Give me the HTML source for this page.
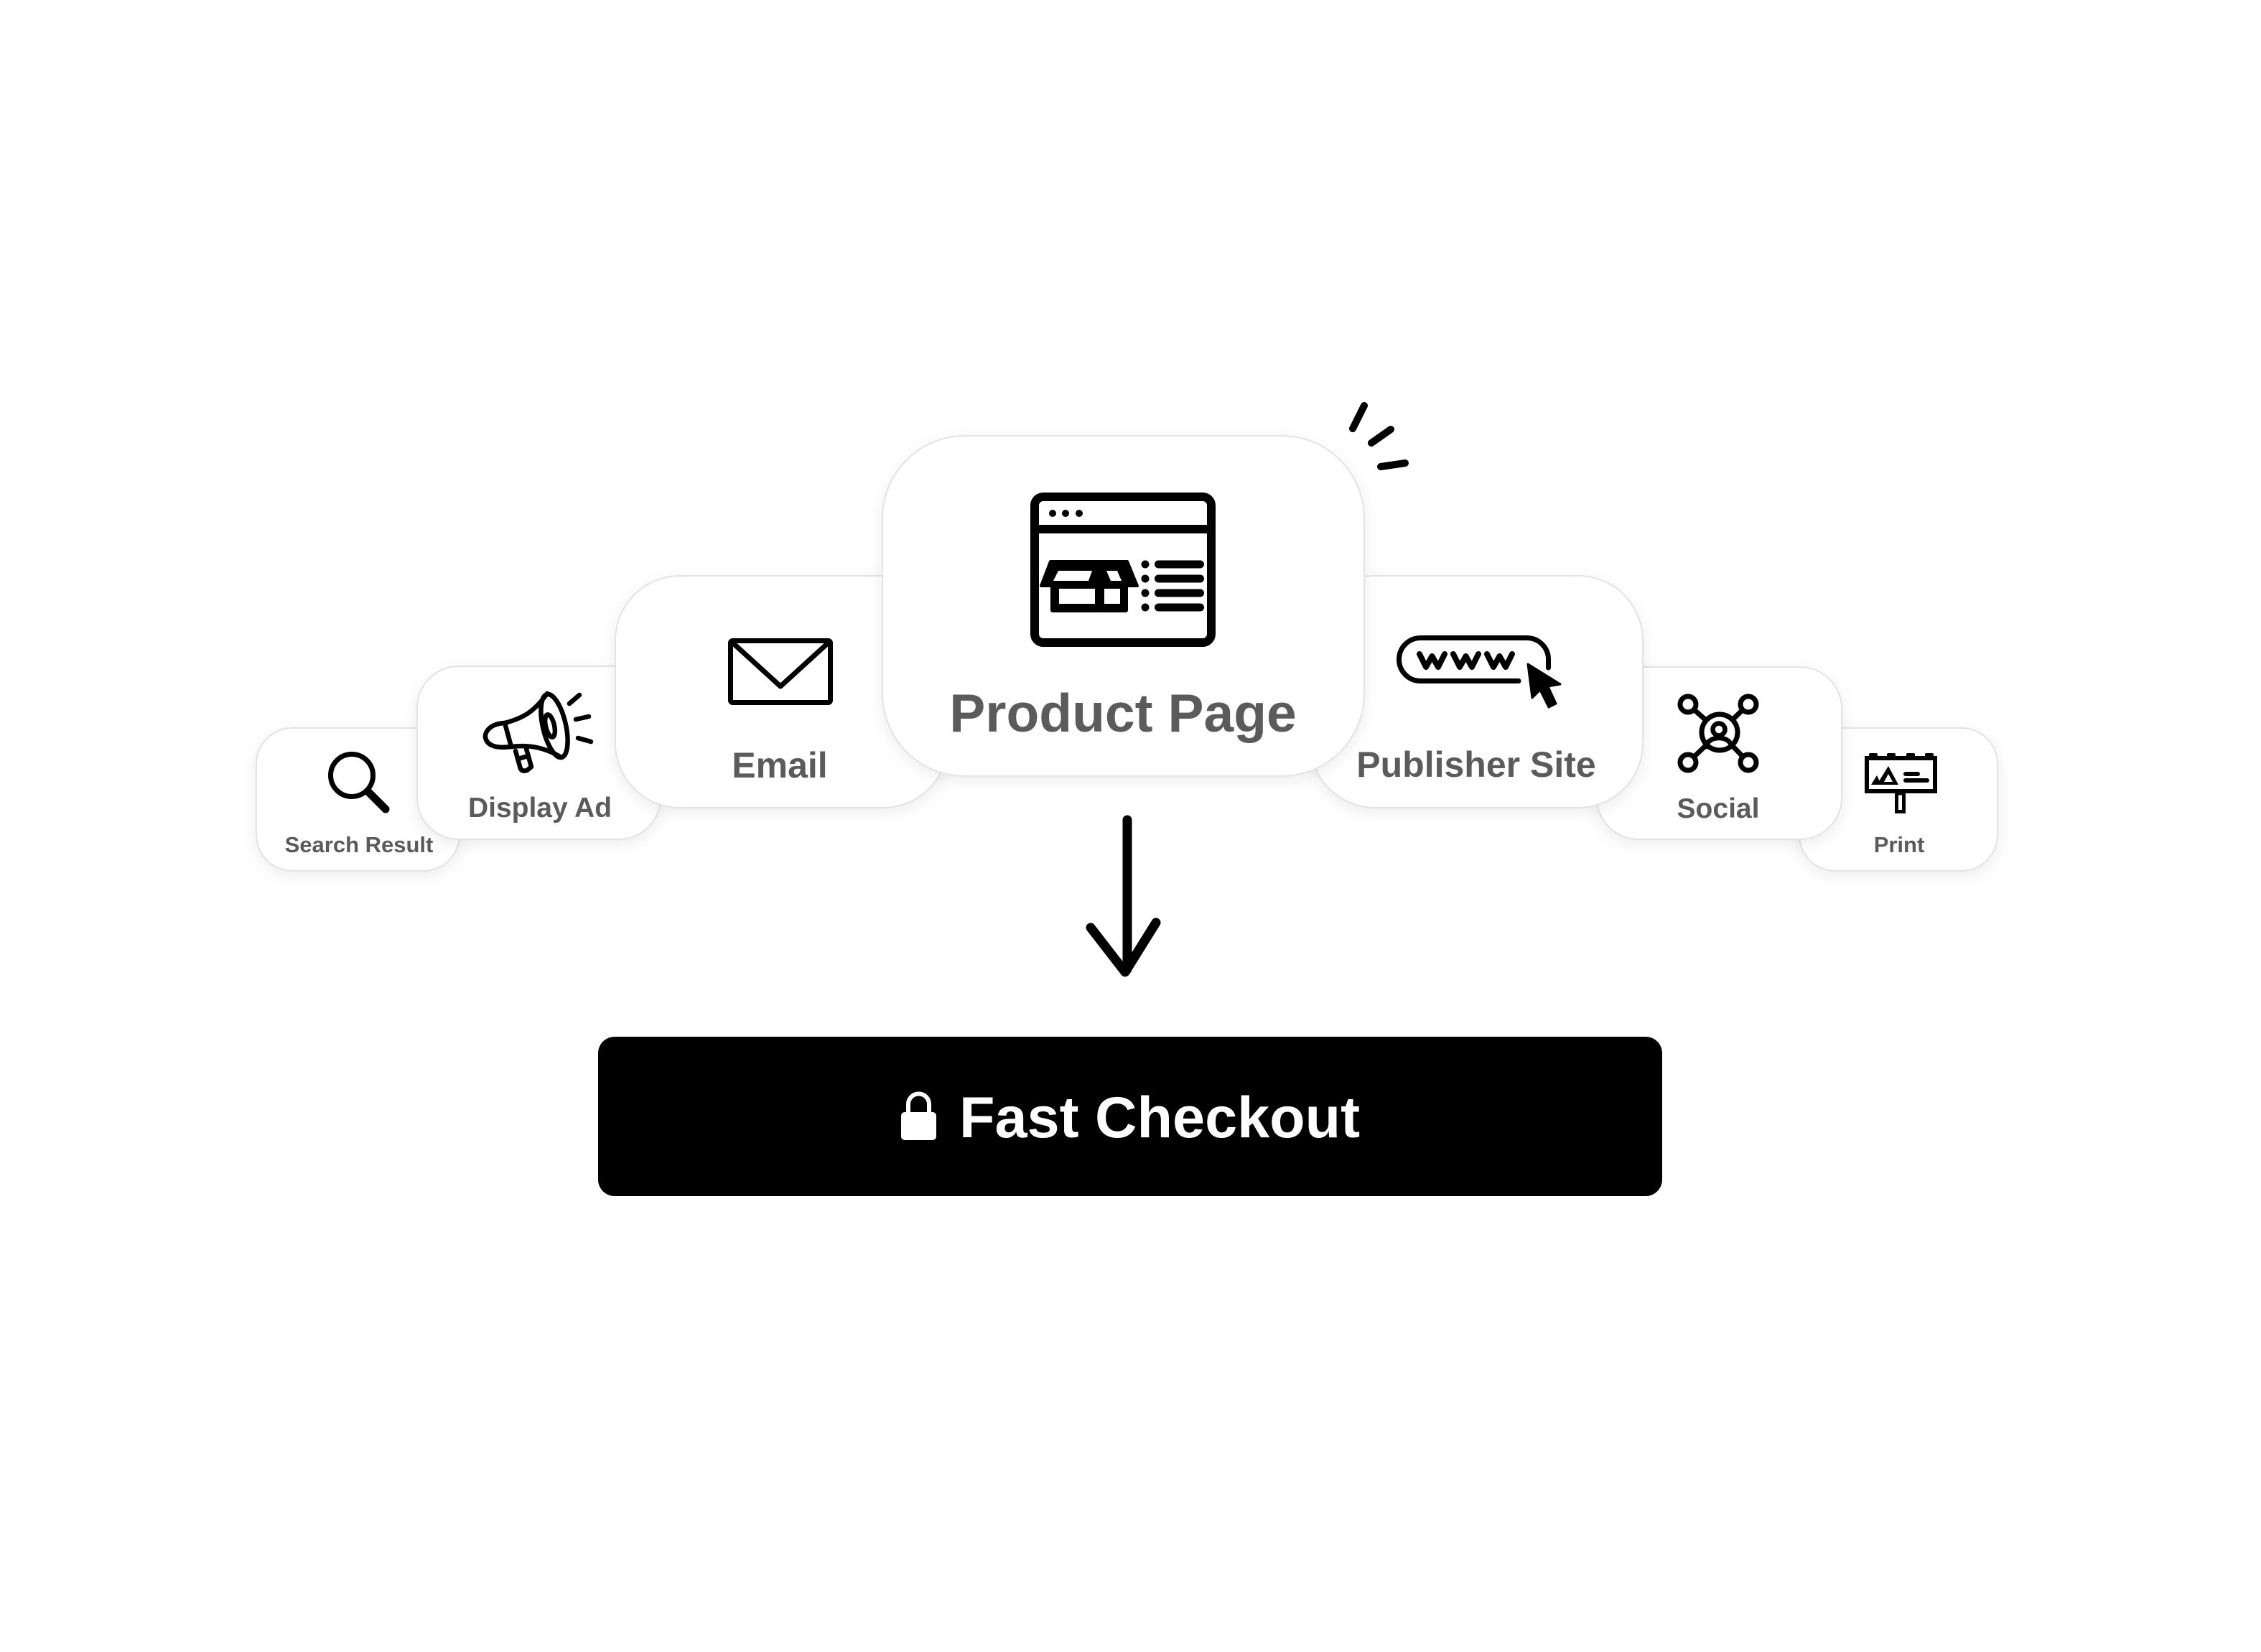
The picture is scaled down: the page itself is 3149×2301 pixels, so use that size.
<!DOCTYPE html>
<html>
<head>
<meta charset="utf-8">
<style>
  html,body{margin:0;padding:0;background:#fff;}
  svg{display:block;}
  .lbl{font-family:"Liberation Sans",Arial,sans-serif;font-weight:700;fill:#5b5b5b;text-anchor:middle;}
</style>
</head>
<body>
<svg width="3149" height="2301" viewBox="0 0 3149 2301" xmlns="http://www.w3.org/2000/svg">
  <defs>
    <filter id="sh" x="-20%" y="-20%" width="140%" height="150%">
      <feDropShadow dx="0" dy="6" stdDeviation="10" flood-color="#000" flood-opacity="0.07"/>
    </filter>
  </defs>
  <rect width="3149" height="2301" fill="#fff"/>

  <!-- Search Result card -->
  <rect x="357" y="1014" width="283" height="199" rx="50" fill="#fff" stroke="#e3e3e3" stroke-width="2" filter="url(#sh)"/>
  <!-- Print card -->
  <rect x="2506" y="1014" width="276" height="199" rx="50" fill="#fff" stroke="#e3e3e3" stroke-width="2" filter="url(#sh)"/>
  <!-- Display Ad card -->
  <rect x="581" y="928" width="339" height="241" rx="58" fill="#fff" stroke="#e3e3e3" stroke-width="2" filter="url(#sh)"/>
  <!-- Social card -->
  <rect x="2224" y="929" width="341" height="240" rx="58" fill="#fff" stroke="#e3e3e3" stroke-width="2" filter="url(#sh)"/>
  <!-- Email card -->
  <rect x="857" y="802" width="463" height="323" rx="90" fill="#fff" stroke="#e3e3e3" stroke-width="2" filter="url(#sh)"/>
  <!-- Publisher card -->
  <rect x="1825" y="802" width="463" height="323" rx="90" fill="#fff" stroke="#e3e3e3" stroke-width="2" filter="url(#sh)"/>
  <!-- Product card -->
  <rect x="1229" y="607" width="671" height="474" rx="115" fill="#fff" stroke="#e3e3e3" stroke-width="2" filter="url(#sh)"/>

  <!-- Search icon -->
  <g fill="none" stroke="#000" stroke-linecap="round">
    <circle cx="490" cy="1080" r="29.5" stroke-width="7"/>
    <line x1="513" y1="1103" x2="537" y2="1127" stroke-width="11"/>
  </g>
  <text class="lbl" x="500" y="1187" font-size="31">Search Result</text>

  <!-- Megaphone icon -->
  <g fill="none" stroke="#000" stroke-width="6.5" stroke-linecap="round" stroke-linejoin="round">
    <ellipse cx="772" cy="1011" rx="16" ry="45" transform="rotate(-13 772 1011)"/>
    <ellipse cx="766" cy="1011" rx="6" ry="16" transform="rotate(-13 766 1011)"/>
    <path d="M703 1007 C730 1000 745 990 762 966"/>
    <path d="M712 1040 C740 1037 760 1042 782 1055"/>
    <path d="M703 1007 L712 1040"/>
    <path d="M703 1007 C682 1008 675 1020 676 1027 C678 1038 690 1043 712 1040"/>
    <path d="M718 1046 L725 1071 Q728 1075 734 1073 L740 1068 L733 1043"/>
    <line x1="721" y1="1057" x2="736" y2="1053"/>
    <line x1="793" y1="980" x2="807" y2="968"/>
    <line x1="802" y1="1002" x2="820" y2="998"/>
    <line x1="805" y1="1028" x2="823" y2="1033"/>
  </g>
  <text class="lbl" x="752" y="1138" font-size="39">Display Ad</text>

  <!-- Email icon -->
  <g fill="none" stroke="#000" stroke-width="7" stroke-linejoin="round">
    <rect x="1017.5" y="892.5" width="139" height="86" rx="3"/>
    <path d="M1019 894 L1087 956 L1155 894"/>
  </g>
  <text class="lbl" x="1086" y="1083" font-size="50">Email</text>

  <!-- Product page browser icon -->
  <g>
    <rect x="1441" y="692" width="246" height="203" rx="12" fill="none" stroke="#000" stroke-width="12"/>
    <line x1="1441" y1="737" x2="1687" y2="737" stroke="#000" stroke-width="12"/>
    <circle cx="1466" cy="715" r="5" fill="#000"/>
    <circle cx="1484" cy="715" r="5" fill="#000"/>
    <circle cx="1503" cy="715" r="5" fill="#000"/>
    <polygon points="1463,782 1570,782 1584,816 1450,816" fill="#000" stroke="#000" stroke-width="4" stroke-linejoin="round"/>
    <polygon points="1474,795 1521,795 1516,809 1467,809" fill="#fff"/>
    <polygon points="1541,795 1556,795 1562,809 1547,809" fill="#fff"/>
    <rect x="1463" y="815" width="108" height="38" rx="3" fill="#000"/>
    <rect x="1475" y="820" width="50" height="21" fill="#fff"/>
    <rect x="1538" y="820" width="22" height="21" fill="#fff"/>
    <g fill="#000">
      <circle cx="1595" cy="786" r="5.5"/>
      <circle cx="1595" cy="806" r="5.5"/>
      <circle cx="1595" cy="826" r="5.5"/>
      <circle cx="1595" cy="846" r="5.5"/>
    </g>
    <g stroke="#000" stroke-width="11" stroke-linecap="round">
      <line x1="1613.5" y1="786" x2="1671.5" y2="786"/>
      <line x1="1613.5" y1="806" x2="1671.5" y2="806"/>
      <line x1="1613.5" y1="826" x2="1671.5" y2="826"/>
      <line x1="1613.5" y1="846" x2="1671.5" y2="846"/>
    </g>
  </g>
  <text class="lbl" x="1564" y="1019" font-size="75">Product Page</text>

  <!-- Sparkle -->
  <g stroke="#000" stroke-width="10" stroke-linecap="round">
    <line x1="1900" y1="565" x2="1884" y2="597"/>
    <line x1="1937" y1="598" x2="1910" y2="617"/>
    <line x1="1957" y1="645" x2="1923" y2="650"/>
  </g>

  <!-- www icon -->
  <g fill="none" stroke="#000" stroke-linecap="round" stroke-linejoin="round">
    <path d="M2115 948.5 H1978.5 A30 30 0 0 1 1978.5 888.5 H2126.5 A30 30 0 0 1 2156.5 918.5 V930" stroke-width="7"/>
    <polyline points="1977,911 1986,929 1994.5,914 2003,929 2012,911" stroke-width="8"/>
    <polyline points="2024,911 2033,929 2041.5,914 2050,929 2059,911" stroke-width="8"/>
    <polyline points="2071,911 2080,929 2088.5,914 2097,929 2106,911" stroke-width="8"/>
  </g>
  <polygon points="2128,925 2134,972 2145,961 2157,985 2167,980 2156,956 2173,953" fill="#000" stroke="#000" stroke-width="3" stroke-linejoin="round"/>
  <text class="lbl" x="2056" y="1082" font-size="50">Publisher Site</text>

  <!-- Social icon -->
  <g stroke="#000" stroke-width="7" fill="#fff">
    <line x1="2351" y1="981" x2="2395" y2="1020"/>
    <line x1="2435" y1="981" x2="2395" y2="1020"/>
    <line x1="2351" y1="1062" x2="2395" y2="1020"/>
    <line x1="2435" y1="1062" x2="2395" y2="1020"/>
    <circle cx="2351" cy="981" r="11"/>
    <circle cx="2435" cy="981" r="11"/>
    <circle cx="2351" cy="1062" r="11"/>
    <circle cx="2435" cy="1062" r="11"/>
    <circle cx="2395" cy="1020" r="25"/>
  </g>
  <g stroke="#000" stroke-width="6.5" fill="none">
    <circle cx="2394" cy="1016" r="8.5"/>
    <path d="M2375 1043 Q2378 1028 2394 1028 Q2410 1028 2413 1043"/>
  </g>
  <text class="lbl" x="2393" y="1139" font-size="39">Social</text>

  <!-- Print icon -->
  <g>
    <rect x="2600" y="1056" width="95" height="46" fill="none" stroke="#000" stroke-width="6"/>
    <g fill="#000">
      <rect x="2603" y="1049" width="12" height="7" rx="2"/>
      <rect x="2628" y="1049" width="12" height="7" rx="2"/>
      <rect x="2655" y="1049" width="12" height="7" rx="2"/>
      <rect x="2681" y="1049" width="12" height="7" rx="2"/>
      <polygon points="2606,1093 2614,1080 2620,1093"/>
      <polygon points="2614,1093 2630,1067 2644,1093"/>
    </g>
    <polygon points="2624,1089 2630,1078 2636,1089" fill="#fff"/>
    <rect x="2641.5" y="1105" width="10" height="25.5" fill="none" stroke="#000" stroke-width="5"/>
    <g stroke="#000" stroke-width="6" stroke-linecap="round">
      <line x1="2654" y1="1078" x2="2671" y2="1078"/>
      <line x1="2654" y1="1087" x2="2684" y2="1087"/>
    </g>
  </g>
  <text class="lbl" x="2645" y="1187" font-size="31">Print</text>

  <!-- Arrow -->
  <g fill="none" stroke="#000" stroke-width="13" stroke-linecap="round" stroke-linejoin="round">
    <line x1="1570" y1="1142" x2="1570" y2="1350"/>
    <polyline points="1519,1292 1567,1354 1610,1285"/>
  </g>

  <!-- Fast Checkout button -->
  <rect x="833" y="1444" width="1482" height="222" rx="23" fill="#000"/>
  <path d="M1265 1551 V1538 A14.5 14.5 0 0 1 1294 1538 V1551" fill="none" stroke="#fff" stroke-width="6"/>
  <rect x="1255" y="1549" width="49" height="39" rx="5" fill="#fff"/>
  <text x="1336" y="1584" font-family="Liberation Sans, Arial, sans-serif" font-weight="700" font-size="81" fill="#fff">Fast Checkout</text>
</svg>
</body>
</html>
